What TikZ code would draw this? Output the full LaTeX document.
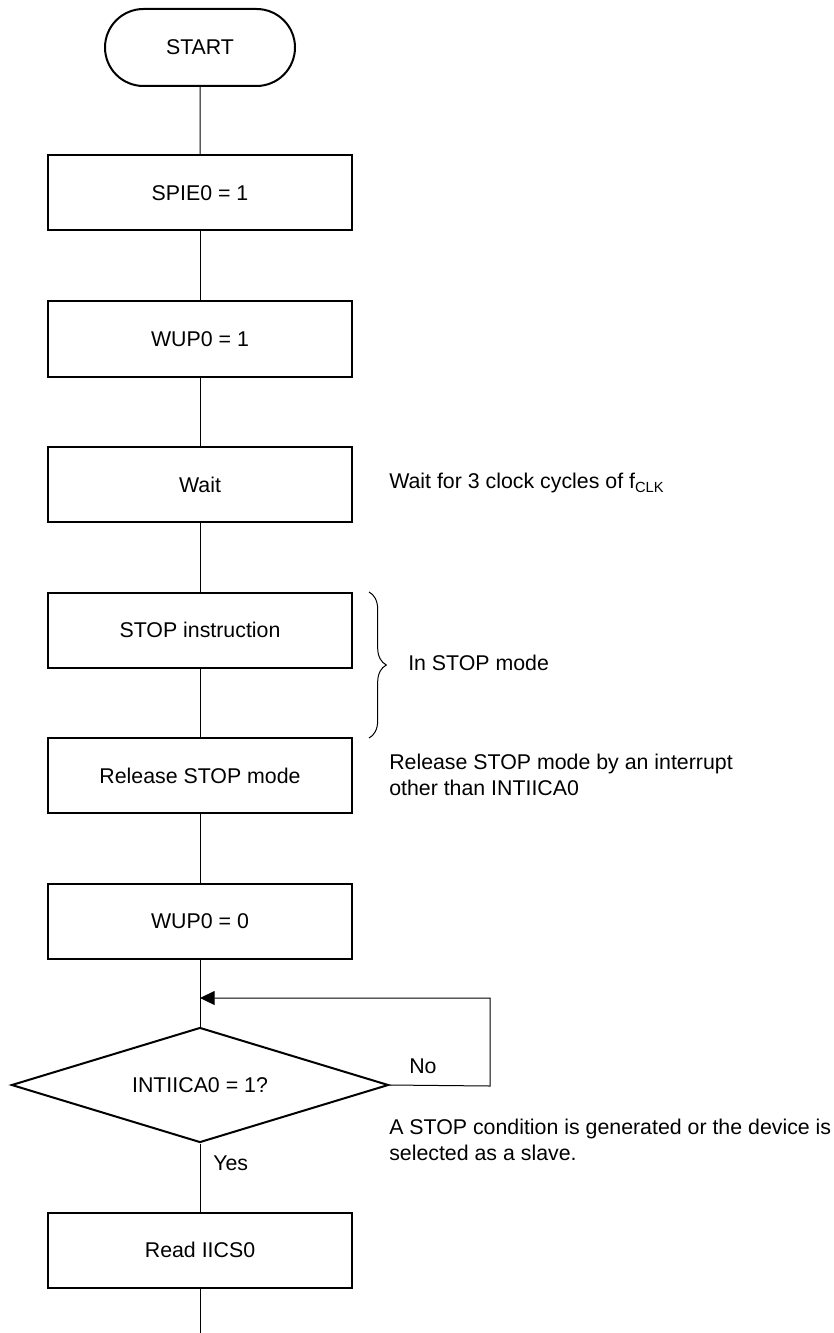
\documentclass[tikz,border=0pt]{standalone}
\usepackage{fontspec}
\setmainfont{Liberation Sans}
\usetikzlibrary{shapes.misc,shapes.geometric,arrows.meta,decorations.pathreplacing}
\begin{document}
\begin{tikzpicture}[x=0.75pt,y=-0.75pt,
  every node/.style={font=\fontsize{16}{19.5}\selectfont},
  procbox/.style={draw,line width=1.5pt,minimum width=228pt,minimum height=56.25pt,inner sep=0pt},
  termbox/.style={draw,line width=1.5pt,rounded rectangle,minimum width=142.5pt,minimum height=57.75pt,inner sep=0pt},
  decbox/.style={draw,line width=1.5pt,diamond,minimum width=282.75pt,minimum height=86.25pt,inner sep=0pt,aspect=3.3},
  conn/.style={line width=0.75pt},
  note/.style={anchor=west,inner sep=0pt,align=left}]
\useasboundingbox (0,0) rectangle (833,1333);
\node[termbox] (start) at (200,47.5) {START};
\node[procbox] (spie) at (200,193) {SPIE0 = 1};
\node[procbox] (wup1) at (200,339) {WUP0 = 1};
\node[procbox] (wait) at (200,484.5) {Wait};
\node[procbox] (stop) at (200,630) {STOP instruction};
\node[procbox] (rel) at (200,775.5) {Release STOP mode};
\node[procbox] (wup0) at (200,921) {WUP0 = 0};
\node[decbox] (dec) at (200,1085) {INTIICA0 = 1?};
\node[procbox] (read) at (200,1250) {Read IICS0};
\coordinate (join) at (200,998);
\coordinate (loopc) at (490,1086);
\coordinate (endp) at (200,1333);

\draw[conn] (start) -- (spie);
\draw[conn] (spie) -- (wup1);
\draw[conn] (wup1) -- (wait);
\draw[conn] (wait) -- (stop);
\draw[conn] (stop) -- (rel);
\draw[conn] (rel) -- (wup0);
\draw[conn] (wup0) -- (dec);
\draw[conn] (dec) -- (read);
\draw[conn] (read) -- (endp);
\draw[conn,-{Triangle[length=11pt,width=10.5pt]}] (dec.east) -- (loopc) |- (join);

\node[note] (lno) at (409,1066) {No};
\node[note] (lyes) at (213,1163) {Yes};
\node[note] (nwait) at (389,483) {Wait for 3 clock cycles of f\raisebox{-0.35ex}{\fontsize{11}{11}\selectfont CLK}};
\node[note] (nstop) at (408,663) {In STOP mode};
\node[note] (nrel) at (389,774.5) {Release STOP mode by an interrupt\\other than INTIICA0};
\node[note] (ncond) at (389,1140) {A STOP condition is generated or the device is\\selected as a slave.};
\draw[conn,decorate,decoration={brace,amplitude=13pt}] (369,592) -- (369,738);
\end{tikzpicture}
\end{document}
